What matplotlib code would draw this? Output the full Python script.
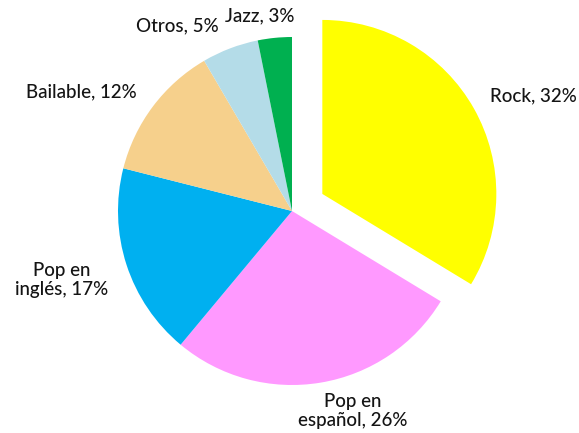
import matplotlib
matplotlib.use("Agg")
import matplotlib.pyplot as plt

# Music genre preferences
genres = ["Rock", "Pop en español", "Pop en inglés", "Bailable", "Otros", "Jazz"]
shares = [32, 26, 17, 12, 5, 3]
label_texts = ["Rock, 32%", "Pop en\nespañol, 26%", "Pop en\ninglés, 17%",
               "Bailable, 12%", "Otros, 5%", "Jazz, 3%"]

colors = ["#FFFF00", "#FF99FF", "#00B0F0", "#F6D08C", "#B4DCE8", "#00B050"]
explode = [0.2, 0, 0, 0, 0, 0]

W, H = 579, 433
cx, cy, R = 292, 211, 174  # pie centre and radius in pixels

fig = plt.figure(figsize=(W / 100, H / 100), dpi=100)
ax = fig.add_axes([0, 0, 1, 1])
ax.pie(shares, colors=colors, explode=explode, startangle=90,
       counterclock=False, radius=1.0,
       wedgeprops=dict(linewidth=0))
ax.set_xlim(-cx / R, (W - cx) / R)
ax.set_ylim(-(H - cy) / R, cy / R)
ax.set_aspect("equal")
ax.axis("off")

# label anchor points (pixel positions of each label centre)
label_px = [(533, 96), (353, 411), (62, 280), (81, 92), (177, 26), (260, 16)]
for txt, (px, py) in zip(label_texts, label_px):
    ax.text((px - cx) / R, (cy - py) / R, txt, ha="center", va="center",
            fontsize=13.5, family="Lato", fontweight="medium",
            color="#141414", linespacing=1.2)

fig.savefig("out.png", dpi=100)
